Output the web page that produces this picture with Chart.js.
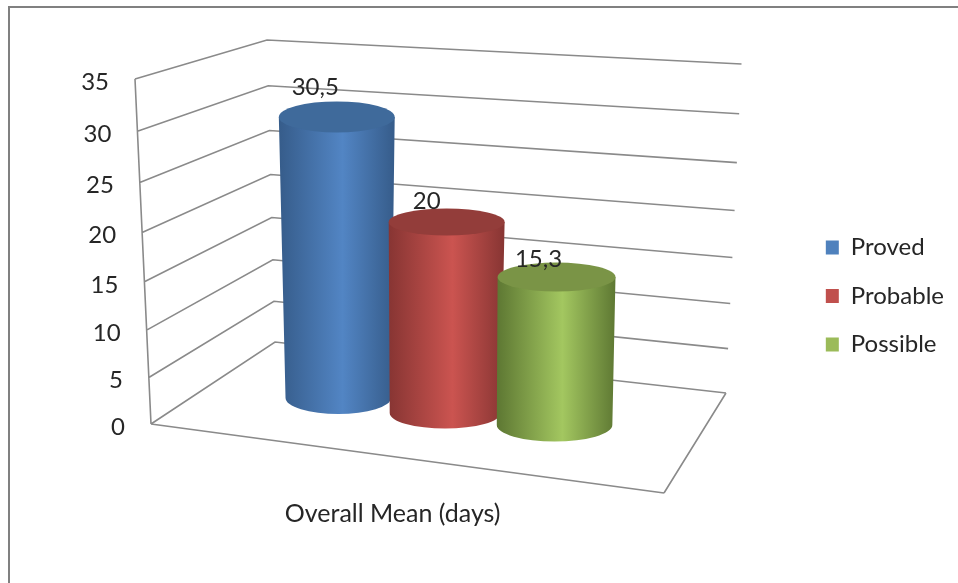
<!DOCTYPE html>
<html>
<head>
<meta charset="utf-8">
<title>Overall Mean (days)</title>
<style>
  html, body { margin: 0; background: #fff; }
  canvas { display: block; }
</style>
<script src="https://cdn.jsdelivr.net/npm/chart.js@4"></script>
</head>
<body>
<canvas id="myChart" width="958" height="583"></canvas>
<script>
// The values
var categories = ["Overall Mean (days)"];
var seriesNames = ["Proved", "Probable", "Possible"];
var provedValues = [30.5];
var probableValues = [20];
var possibleValues = [15.3];

var FONT = "Lato, Carlito, sans-serif";
var FONT_SIZE = 24;
var TEXT = "#262626";
var GRID = "#8a8a8a";

// Corners of the fake 3D box
var frontTop = [135, 79], frontBottom = [151, 424];
var backTop = [267, 40], backBottom = [275, 342];
var rightTop = [741.5, 64], rightBottom = [726, 393];
var floorFront = [664, 493];
var PERSPECTIVE = 1.07; // gridlines spread slightly towards the top

// Colours: legend swatch, dark edge, bright middle, lid
var legendColors = ["#4F81BD", "#C0504D", "#9BBB59"];
var edgeColors = ["#365C8A", "#873533", "#5E7833"];
var midColors = ["#5285C4", "#CB5450", "#A3C760"];
var lidColors = ["#3F6A9B", "#933D3A", "#7A9446"];

// Each cylinder stands a bit further back than the front of the box
var depths = [
  { lift: 26, shrink: 0.935, topW: 1, baseW: 0.91, baseDx: 1.5, topRy: 15.5, baseRy: 16, labelDx: -21.5, labelDy: -29.5 },
  { lift: 11, shrink: 0.969, topW: 1, baseW: 0.957, baseDx: -1.5, topRy: 13.5, baseRy: 15.5, labelDx: -20, labelDy: -20.5 },
  { lift: -1, shrink: 0.981, topW: 1.017, baseW: 0.997, baseDx: -2, topRy: 14.5, baseRy: 16.5, labelDx: -18, labelDy: -18 }
];

function mix(a, b, t) {
  return [a[0] + (b[0] - a[0]) * t, a[1] + (b[1] - a[1]) * t];
}

function segment(ctx, p, q) {
  ctx.moveTo(p[0], p[1]);
  ctx.lineTo(q[0], q[1]);
}

// height along a wall edge (0..1) for a tick, taken from the value scale
function wallPos(chart, value) {
  var area = chart.chartArea;
  var t = (area.bottom - chart.scales.y.getPixelForValue(value)) / (area.bottom - area.top);
  return t / (t + (1 - t) * PERSPECTIVE);
}

function drawCylinder(ctx, bar, i) {
  var d = depths[i];
  var baseY = bar.base - d.lift;
  var topY = baseY - (bar.base - bar.y) * d.shrink;
  var rxTop = bar.width * d.topW / 2;
  var rxBase = bar.width * d.baseW / 2;
  var xBase = bar.x + d.baseDx;

  var body = ctx.createLinearGradient(bar.x - rxTop, 0, bar.x + rxTop, 0);
  body.addColorStop(0, edgeColors[i]);
  body.addColorStop(0.55, midColors[i]);
  body.addColorStop(1, edgeColors[i]);

  ctx.beginPath();
  ctx.moveTo(bar.x - rxTop, topY);
  ctx.lineTo(xBase - rxBase, baseY);
  ctx.ellipse(xBase, baseY, rxBase, d.baseRy, 0, Math.PI, 0, true);
  ctx.lineTo(bar.x + rxTop, topY);
  ctx.closePath();
  ctx.fillStyle = body;
  ctx.fill();

  ctx.beginPath();
  ctx.ellipse(bar.x, topY, rxTop, d.topRy, 0, 0, Math.PI * 2);
  ctx.fillStyle = lidColors[i];
  ctx.fill();
}

var box3d = {
  id: "box3d",
  beforeDraw: function (chart) {
    // outer frame only runs along the top and left
    var ctx = chart.ctx;
    ctx.save();
    ctx.strokeStyle = "#808080";
    ctx.lineWidth = 2;
    ctx.beginPath();
    ctx.moveTo(9, 583);
    ctx.lineTo(9, 7);
    ctx.lineTo(958, 7);
    ctx.stroke();
    ctx.restore();
  },
  beforeDatasetsDraw: function (chart) {
    var ctx = chart.ctx;
    var y = chart.scales.y;
    var x = chart.scales.x;

    ctx.save();
    ctx.strokeStyle = GRID;
    ctx.lineWidth = 1.6;
    ctx.beginPath();
    segment(ctx, frontTop, frontBottom);
    segment(ctx, frontBottom, floorFront);
    segment(ctx, floorFront, rightBottom);
    y.ticks.forEach(function (tick) {
      var t = wallPos(chart, tick.value);
      var a = mix(frontBottom, frontTop, t);
      var b = mix(backBottom, backTop, t);
      var c = mix(rightBottom, rightTop, t);
      ctx.moveTo(a[0], a[1]);
      ctx.lineTo(b[0], b[1]);
      ctx.lineTo(c[0], c[1]);
    });
    ctx.stroke();

    // value axis labels follow the slanted front edge
    ctx.fillStyle = TEXT;
    ctx.font = FONT_SIZE + "px " + FONT;
    ctx.textAlign = "right";
    ctx.textBaseline = "middle";
    y.ticks.forEach(function (tick) {
      var a = mix(frontBottom, frontTop, wallPos(chart, tick.value));
      ctx.fillText(tick.label, a[0] - 26, a[1] + 3);
    });

    // category name sits under the front edge of the floor
    ctx.textAlign = "center";
    ctx.font = "25px " + FONT;
    ctx.fillText(categories[0], x.getPixelForTick(0) - 54, 514);
    ctx.restore();

    chart.data.datasets.forEach(function (ds, i) {
      drawCylinder(ctx, chart.getDatasetMeta(i).data[0], i);
    });

    // labels go on last so they sit over the lids
    ctx.save();
    ctx.fillStyle = TEXT;
    ctx.font = FONT_SIZE + "px " + FONT;
    ctx.textAlign = "center";
    ctx.textBaseline = "middle";
    chart.data.datasets.forEach(function (ds, i) {
      var bar = chart.getDatasetMeta(i).data[0];
      var d = depths[i];
      var topY = bar.base - d.lift - (bar.base - bar.y) * d.shrink;
      ctx.fillText(String(ds.data[0]).replace(".", ","), bar.x + d.labelDx, topY + d.labelDy);
    });
    ctx.restore();

    return false; // cylinders replace the flat bars
  }
};

var ctx = document.getElementById("myChart").getContext("2d");
var chart = new Chart(ctx, {
  type: "bar",
  data: {
    labels: categories,
    datasets: [
      { label: seriesNames[0], data: provedValues, backgroundColor: legendColors[0] },
      { label: seriesNames[1], data: probableValues, backgroundColor: legendColors[1] },
      { label: seriesNames[2], data: possibleValues, backgroundColor: legendColors[2] }
    ]
  },
  options: {
    responsive: false,
    animation: false,
    categoryPercentage: 330 / 710,
    barPercentage: 116 / 110,
    layout: { padding: { left: 92, top: 79, bottom: 70, right: 4 } },
    scales: {
      x: {
        grid: { display: false },
        border: { display: false },
        ticks: { display: false },
        afterFit: function (scale) { scale.height = 89; }
      },
      y: {
        min: 0,
        max: 35,
        grid: { display: false },
        border: { display: false },
        ticks: { display: false, stepSize: 5 },
        afterFit: function (scale) { scale.width = 0; }
      }
    },
    plugins: {
      tooltip: { enabled: false },
      legend: {
        position: "right",
        labels: {
          boxWidth: 13,
          boxHeight: 14,
          padding: 24.5,
          color: TEXT,
          font: { family: FONT, size: FONT_SIZE }
        }
      }
    }
  },
  plugins: [box3d]
});
</script>
</body>
</html>
